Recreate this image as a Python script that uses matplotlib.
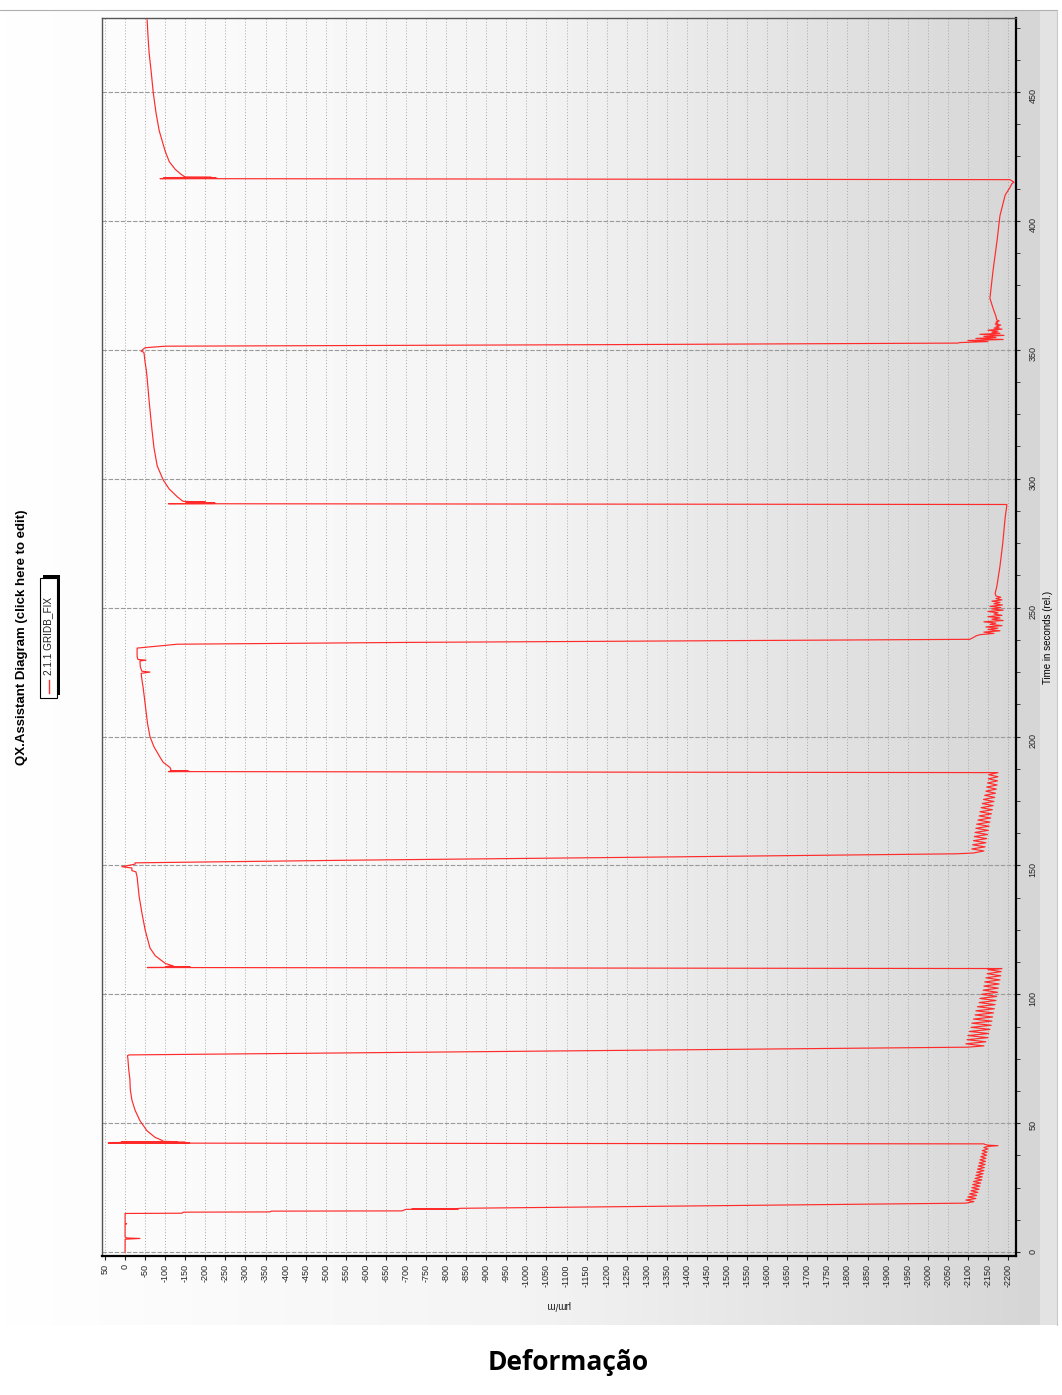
"""QX.Assistant strain diagram (rotated screenshot look)."""
import numpy as np
import matplotlib
matplotlib.use("Agg")
import matplotlib.pyplot as plt
from matplotlib.colors import LinearSegmentedColormap
from matplotlib.patches import Rectangle

plt.rcParams["font.family"] = ["Liberation Sans", "DejaVu Sans"]

# ---- data: time (s) and strain (um/m), phase by phase ----
hold0_t = [0.0, 5.0, 5.3, 5.5, 5.8, 10.8, 11.0, 11.2, 15.0]
hold0_s = [0, 0, -37, -5, 0, 0, -4, 0, 0]

load1_t = [15.1, 15.5, 15.6, 15.9, 16.0, 16.6, 16.7, 16.8, 16.9, 17.0, 19.0]
load1_s = [-142, -145, -360, -365, -690, -700, -830, -715, -830, -835, -2095]

saw1_t = [19.6, 20.2, 20.8, 21.4, 22.0, 22.6, 23.2, 23.8, 24.4, 25.0, 25.6, 26.2,
          26.8, 27.4, 28.0, 28.6, 29.2, 29.8, 30.4, 31.0, 31.6, 32.2, 32.8, 33.4,
          34.0, 34.6, 35.2, 35.8, 36.4, 37.0, 37.6, 38.2, 38.8, 39.4, 40.0, 40.6]
saw1_s = [-2115, -2095, -2120, -2100, -2122, -2104, -2125, -2108, -2128, -2110,
          -2130, -2112, -2132, -2114, -2135, -2118, -2136, -2120, -2138, -2122,
          -2140, -2124, -2141, -2126, -2143, -2128, -2144, -2130, -2145, -2132,
          -2147, -2135, -2148, -2136, -2150, -2140]

peak1_t = [41.0, 41.3, 41.5, 41.8, 42.0]
peak1_s = [-2150, -2175, -2150, -2142, -2140]

unload1_t = [42.3, 42.4, 42.5, 42.6, 42.7, 42.8, 43.0]
unload1_s = [42, -160, 30, -150, 10, -130, -95]

rec1_t = [43.5, 44.5, 47.0, 51.0, 55.0, 59.0, 63.0, 67.0, 71.0, 75.0, 76.2]
rec1_s = [-90, -75, -55, -37, -25, -17, -13, -12, -9, -7, -6]

load2_t = [76.5, 77.5, 78.5, 79.5]
load2_s = [-10, -700, -1400, -2100]

saw2_t = [80.0, 80.8, 81.6, 82.4, 83.2, 84.0, 84.8, 85.6, 86.4, 87.2, 88.0, 88.8,
          89.6, 90.4, 91.2, 92.0, 92.8, 93.6, 94.4, 95.2, 96.0, 96.8, 97.6, 98.4,
          99.2, 100.0, 100.8, 101.6, 102.4, 103.2, 104.0, 104.8, 105.6, 106.4,
          107.2, 108.0, 108.8, 109.6]
saw2_s = [-2140, -2095, -2145, -2098, -2150, -2100, -2152, -2104, -2155, -2108,
          -2158, -2110, -2160, -2114, -2162, -2118, -2164, -2120, -2166, -2124,
          -2168, -2128, -2170, -2130, -2172, -2134, -2174, -2138, -2176, -2140,
          -2178, -2142, -2180, -2145, -2182, -2148, -2183, -2150]

unload2_t = [110.0, 110.4, 110.5, 110.6, 110.7, 110.8, 111.0]
unload2_s = [-2185, -55, -160, -100, -162, -105, -120]

rec2_t = [112.0, 115.0, 118.0, 125.0, 131.5, 138.0, 145.5, 147.5, 148.0, 149.0,
          149.5, 150.5, 151.0]
rec2_s = [-100, -75, -62, -50, -42, -35, -30, -27, -17, -17, 8, -25, -25]

load3_t = [152.0, 153.2, 154.5, 154.8]
load3_s = [-550, -1300, -2070, -2113]

saw3_t = [155.6, 156.4, 157.2, 158.0, 158.8, 159.6, 160.4, 161.2, 162.0, 162.8,
          163.6, 164.4, 165.2, 166.0, 166.8, 167.6, 168.4, 169.2, 170.0, 170.8,
          171.6, 172.4, 173.2, 174.0, 174.8, 175.6, 176.4, 177.2, 178.0, 178.8,
          179.6, 180.4, 181.2, 182.0, 182.8, 183.6, 184.4, 185.2]
saw3_s = [-2140, -2110, -2143, -2112, -2145, -2114, -2147, -2116, -2149, -2118,
          -2151, -2120, -2153, -2122, -2155, -2125, -2157, -2128, -2159, -2130,
          -2161, -2133, -2163, -2136, -2165, -2139, -2167, -2142, -2169, -2145,
          -2171, -2147, -2173, -2149, -2174, -2151, -2175, -2152]

unload3_t = [186.0, 186.4, 186.5, 186.6, 186.7, 186.8]
unload3_s = [-2175, -108, -160, -112, -155, -115]

rec3_t = [188.0, 190.0, 192.0, 196.0, 200.0, 205.0, 210.0, 215.0, 219.0, 222.0,
          224.5, 225.0, 225.3, 227.0, 229.3, 229.6, 229.9, 231.0, 234.3]
rec3_s = [-112, -95, -87, -72, -62, -56, -52, -48, -45, -42,
          -40, -62, -42, -38, -37, -52, -32, -30, -30]

load4_t = [235.8, 236.5, 237.7, 238.5, 239.0]
load4_s = [-130, -700, -2105, -2115, -2120]

jit4_t = [239.5, 240.0, 240.5, 241.0, 241.5, 242.0, 242.5, 243.0, 243.5, 244.0,
          244.5, 245.0, 245.5, 246.0, 246.5, 247.0, 247.5, 248.0, 248.5, 249.0,
          249.5, 250.0, 250.5, 251.0, 251.5, 252.0, 252.5, 253.0, 253.5, 254.0,
          254.5]
jit4_s = [-2130, -2165, -2140, -2180, -2150, -2175, -2145, -2185, -2155, -2170,
          -2140, -2188, -2160, -2180, -2150, -2185, -2165, -2175, -2150, -2188,
          -2160, -2182, -2155, -2186, -2165, -2180, -2160, -2185, -2170, -2182,
          -2170]

drift4_t = [255.5, 258.0, 262.0, 266.0, 270.0, 275.0, 280.0, 285.0, 289.5]
drift4_s = [-2168, -2172, -2176, -2180, -2183, -2187, -2190, -2193, -2197]

unload4_t = [290.0, 290.3, 290.4, 290.5, 290.6, 290.8, 291.0, 291.2]
unload4_s = [-2197, -108, -220, -150, -224, -155, -200, -145]

rec4_t = [291.5, 293.0, 296.0, 299.5, 305.0, 312.0, 319.0, 330.0, 339.0, 342.0,
          345.0, 349.0, 349.5, 350.2]
rec4_s = [-142, -130, -110, -95, -80, -72, -67, -60, -55, -53,
          -50, -47, -40, -45]

load5_t = [350.8, 351.4, 352.0, 352.6]
load5_s = [-50, -100, -1200, -2075]

jit5_t = [352.8, 353.2, 353.6, 354.0, 354.4, 354.8, 355.2, 355.6, 356.0, 356.4,
          356.8, 357.2, 357.6, 358.0, 358.4, 358.8, 359.2, 359.6, 360.0, 360.4,
          360.8, 361.2, 361.6]
jit5_s = [-2080, -2150, -2100, -2188, -2120, -2170, -2140, -2190, -2130, -2180,
          -2160, -2175, -2150, -2185, -2165, -2178, -2170, -2182, -2168, -2175,
          -2170, -2178, -2172]

drift5_t = [363.0, 366.0, 370.0, 381.0, 392.6, 402.0, 410.0, 413.0, 414.5, 415.0]
drift5_s = [-2170, -2163, -2155, -2163, -2173, -2180, -2193, -2205, -2210, -2215]

unload5_t = [416.0, 416.4, 416.5, 416.6, 416.7, 416.8, 416.9, 417.0]
unload5_s = [-2205, -87, -230, -95, -225, -110, -215, -150]

rec5_t = [418.0, 420.0, 423.0, 427.0, 435.0, 442.0, 450.0, 458.0, 465.0, 472.0, 478.0]
rec5_s = [-140, -125, -110, -100, -85, -77, -70, -65, -60, -57, -55]

phases_t = [hold0_t, load1_t, saw1_t, peak1_t, unload1_t, rec1_t, load2_t, saw2_t,
            unload2_t, rec2_t, load3_t, saw3_t, unload3_t, rec3_t, load4_t, jit4_t,
            drift4_t, unload4_t, rec4_t, load5_t, jit5_t, drift5_t, unload5_t, rec5_t]
phases_s = [hold0_s, load1_s, saw1_s, peak1_s, unload1_s, rec1_s, load2_s, saw2_s,
            unload2_s, rec2_s, load3_s, saw3_s, unload3_s, rec3_s, load4_s, jit4_s,
            drift4_s, unload4_s, rec4_s, load5_s, jit5_s, drift5_s, unload5_s, rec5_s]
time = np.concatenate([np.asarray(p, float) for p in phases_t])
strain = np.concatenate([np.asarray(p, float) for p in phases_s])

strain_ticks = list(range(50, -2201, -50))
time_ticks = [0, 50, 100, 150, 200, 250, 300, 350, 400, 450]

W, H = 1062, 1395
fig = plt.figure(figsize=(W / 100, H / 100), dpi=100)
fig.patch.set_facecolor("white")

# screenshot background: horizontal grey gradient
bg = fig.add_axes([0, 0, 1, 1], zorder=-10)
bg.set_xlim(0, W); bg.set_ylim(H, 0); bg.axis("off")
cmap_bg = LinearSegmentedColormap.from_list("bg", ["#ffffff", "#f4f4f4", "#d6d6d6"])
bg.imshow(np.linspace(0, 1, 256)[None, :], extent=[0, 1040, 1325, 10],
          cmap=cmap_bg, aspect="auto", interpolation="bilinear")
bg.add_patch(Rectangle((1040, 10), 17, 1315, color="#e3e3e3", lw=0))
bg.plot([0, 1057], [10, 10], color="#b0b0b0", lw=0.8)
bg.plot([1057, 1057], [10, 1325], color="#c8c8c8", lw=0.8)

ax = fig.add_axes([102 / W, 1 - 1256 / H, 914 / W, 1238 / H])
ax.patch.set_alpha(0)
ax.plot(strain, time, color="#ff2a2a", lw=0.85, zorder=3)

ax.set_xlim(57.5, -2220)
ax.set_ylim(-1.5, 478.7)
ax.set_xticks(strain_ticks)
ax.set_xticklabels([str(v) for v in strain_ticks])
ax.tick_params(axis="x", labelrotation=90, labelsize=6.5, length=3, pad=3,
               colors="#222222")
ax.yaxis.tick_right()
ax.set_yticks(time_ticks)
ax.set_yticks(np.arange(0, 479, 12.5), minor=True)
ax.tick_params(axis="y", which="both", labelrotation=90, labelsize=6.5,
               length=3, pad=6, colors="#222222")
ax.yaxis.set_label_position("right")
ax.set_ylabel("Time in seconds (rel.)", fontsize=7, rotation=90, labelpad=4)

ax.grid(axis="x", ls=(0, (1, 2)), color="#a8a8a8", lw=0.7)
ax.grid(axis="y", which="major", ls=(0, (4, 1.5)), color="#9a9a9a", lw=0.8)
for side in ["left", "top"]:
    ax.spines[side].set_color("#555555")
    ax.spines[side].set_linewidth(1.0)
for side in ["right", "bottom"]:
    ax.spines[side].set_color("black")
    ax.spines[side].set_linewidth(1.6)

fig.text(558 / W, 1 - 1305 / H, "µm/m", rotation=180, ha="center", va="center",
         fontsize=7, color="#222222")

fig.text(22 / W, 1 - 637 / H, "QX.Assistant Diagram (click here to edit)",
         rotation=90, ha="center", va="center", fontsize=9.5, fontweight="bold")

# legend box, drawn rotated like the rest of the screenshot
bg.add_patch(Rectangle((43, 575), 17, 120, facecolor="black", lw=0, zorder=2))
bg.add_patch(Rectangle((40, 578), 17, 120, facecolor="white", edgecolor="black",
                       lw=0.8, zorder=3))
bg.plot([48.5, 48.5], [680, 693], color="#ff2a2a", lw=1.0, zorder=4)
bg.text(48.5, 675, "2.1.1 GRIDB_FIX", rotation=90, ha="center", va="bottom",
        fontsize=7.2, zorder=4, color="#222222")

fig.text(568 / W, 1 - 1362 / H, "Deformação", ha="center", va="center",
         fontsize=19, fontweight="bold", family=["Open Sans", "DejaVu Sans"])

fig.savefig("out.png", dpi=100)
